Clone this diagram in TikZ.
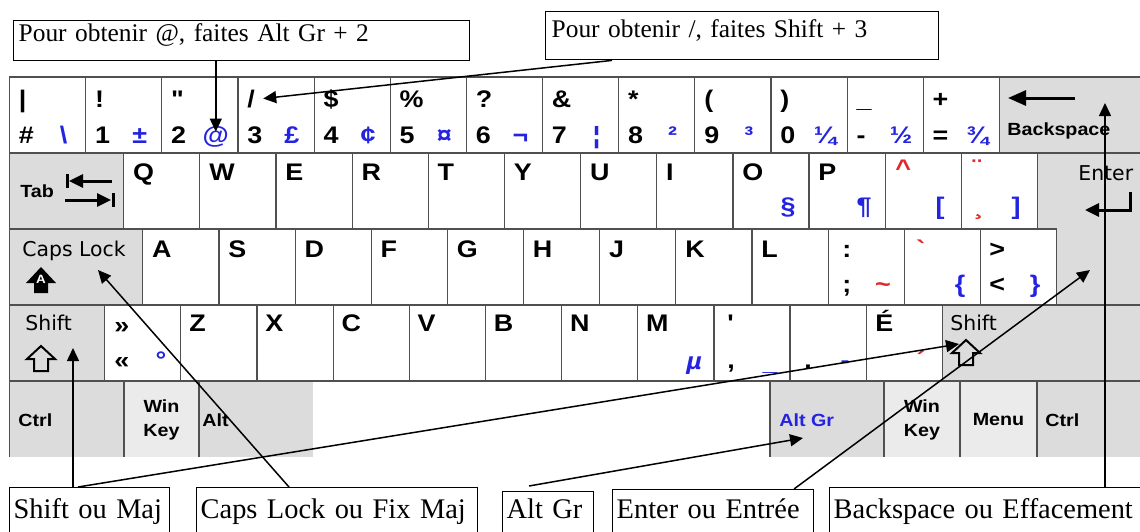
\documentclass[tikz,border=0pt]{standalone}
\usepackage{fontspec}
\setmainfont{Liberation Serif}
\newfontfamily\keyfont[FakeStretch=1.12,Ligatures=TeXOff]{Liberation Sans}
\newfontfamily\plainfont{DejaVu Sans}
\usetikzlibrary{arrows.meta,calc}

\definecolor{keyline}{HTML}{505050}
\definecolor{keygray}{HTML}{DCDCDC}
\definecolor{keylight}{HTML}{EBEBEB}
\definecolor{altblue}{HTML}{2424E0}
\definecolor{deadred}{HTML}{E02828}

\tikzset{
  keyface/.style={draw=keyline, line width=0.6pt, fill=white},
  modface/.style={keyface, fill=keygray},
  keychar/.style={inner sep=0pt, anchor=base west, font=\keyfont\bfseries\fontsize{12}{12}\selectfont},
  altchar/.style={keychar, anchor=base, text=altblue},
  deadchar/.style={keychar, text=deadred},
  modlabel/.style={inner sep=0pt, anchor=base west, font=\keyfont\bfseries\fontsize{8.8}{12}\selectfont},
  plainlabel/.style={inner sep=0pt, anchor=base west, font=\plainfont\fontsize{10.2}{12}\selectfont},
  note/.style={draw, line width=0.7pt, anchor=north west, inner xsep=2.5pt, inner ysep=0pt, align=left, font=\fontsize{12.7}{16}\selectfont},
  bignote/.style={note, inner xsep=2pt, font=\fontsize{14.2}{17}\selectfont, text height=15.5pt, text depth=12pt},
  arr/.style={-{Triangle[length=6.5pt,width=6pt]}, line width=0.75pt},
  icon/.style={line width=1.5pt, -{Triangle[length=7pt,width=6.5pt]}}
}

\begin{document}
\begin{tikzpicture}[x=0.5pt, y=-0.5pt]
\useasboundingbox (0,0) rectangle (1140,531);

% bottom row
\fill[keygray] (9.5,381) rectangle (124,457);
\fill[keylight] (124,381) rectangle (199,457);
\fill[keygray] (199,381) rectangle (313,457);
\fill[keygray] (770,381) rectangle (884,457);
\fill[keylight] (884,381) rectangle (1037,457);
\fill[keygray] (1037,381) rectangle (1142,457);
\foreach \xx in {9.5,124,199,770,884,960,1037}
  \draw[keyline, line width=0.6pt] (\xx,381) -- (\xx,457);

% row 1
\foreach \shft/\bas/\agr [count=\i from 0] in {{|}/{\#}/{\textbackslash}, {!}/1/{±}, {"}/2/{@}, {/}/3/{£}, {\$}/4/{¢}, {\%}/5/{¤}, {?}/6/{¬}, {\&}/7/{¦}, {*}/8/{²}, {(}/9/{³}, {)}/0/{¼}, {\_}/{-}/{½}, {+}/{=}/{¾}} {
  \draw[keyface] ({9.5+76.15*\i},77) rectangle +(76.15,76);
  \node[keychar] (n\i-up) at ({18.5+76.15*\i},107) {\shft};
  \node[keychar] (n\i-low) at ({18.5+76.15*\i},143) {\bas};
  \node[altchar] (n\i-alt) at ({63.5+76.15*\i},143) {\agr};
}
\draw[modface] (999.45,77) rectangle (1142,153);
\draw[modface] (1037.5,153) -- (1142,153) -- (1142,305) -- (1056.6,305) -- (1056.6,229) -- (1037.5,229) -- cycle;

% row 2
\draw[modface] (9.5,153) rectangle (123.7,229);
\foreach \j in {0,...,11}
  \draw[keyface] ({123.7+76.15*\j},153) rectangle +(76.15,76);
\foreach \ch [count=\j from 0] in {Q,W,E,R,T,Y,U,I,O,P}
  \node[keychar] (q\j) at ({132.7+76.15*\j},180) {\ch};
\node[altchar] (para) at (788,214) {§};
\node[altchar] (pilcrow) at (864,214) {¶};
\node[deadchar] (circ) at (895,176) {\textasciicircum};
\node[altchar] (lbrack) at (940,214) {[};
\node[deadchar] (trema) at (972,176) {¨};
\node[deadchar] (cedil) at (974,214) {¸};
\node[altchar] (rbrack) at (1016,214) {]};

% row 3
\draw[modface] (9.5,229) rectangle (142.8,305);
\foreach \j in {0,...,11}
  \draw[keyface] ({142.8+76.15*\j},229) rectangle +(76.15,76);
\foreach \ch [count=\j from 0] in {A,S,D,F,G,H,J,K,L}
  \node[keychar] (a\j) at ({151.8+76.15*\j},257) {\ch};
\node[keychar] (colon) at (842,257) {:};
\node[keychar] (semi) at (842,292) {;};
\node[deadchar, anchor=base] (tilde) at (883,292) {\textasciitilde};
\node[deadchar] (grave) at (916,257) {`};
\node[altchar] (lbrace) at (960,292) {\{};
\node[keychar] (gt) at (989,257) {>};
\node[keychar] (lt) at (989,292) {<};
\node[altchar] (rbrace) at (1035,292) {\}};

% row 4
\draw[modface] (9.5,305) rectangle (104.7,381);
\foreach \j in {0,...,10}
  \draw[keyface] ({104.7+76.15*\j},305) rectangle +(76.15,76);
\draw[modface] (942.35,305) rectangle (1142,381);
\node[keychar] (raquo) at (114,333) {»};
\node[keychar] (laquo) at (114,368) {«};
\node[altchar] (degree) at (161,368) {°};
\foreach \ch [count=\j from 1] in {Z,X,C,V,B,N,M}
  \node[keychar] (z\j) at ({112.7+76.15*\j},331) {\ch};
\node[altchar] (micro) at (694,369) {\itshape µ};
\node[keychar] (apos) at (727,331) {'};
\node[keychar] (comma) at (727,368) {,};
\node[altchar] (under) at (770,370) {\_};
\node[keychar] (dot) at (804,368) {.};
\node[altchar] (dash) at (845,368) {-};
\node[keychar] (eacute) at (875,331) {É};
\node[deadchar, anchor=base] (acute) at (921,368) {´};

% key names
\node[modlabel] (tabTxt) at (20,197) {Tab};
\node[modlabel] (bkspTxt) at (1007,135) {Backspace};
\node[plainlabel] (enterTxt) at (1078,180) {Enter};
\node[plainlabel] (capsTxt) at (22,256) {Caps Lock};
\node[plainlabel] (lshiftTxt) at (25,330) {Shift};
\node[plainlabel] (rshiftTxt) at (950,330) {Shift};
\node[modlabel, anchor=west] (lctrl) at (18,420) {Ctrl};
\node[modlabel, anchor=center, align=center] (lwin) at (161.5,420) {Win\\Key};
\node[modlabel, anchor=west] (alt) at (202,420) {Alt};
\node[modlabel, anchor=west, text=altblue] (altgr) at (779,420) {Alt Gr};
\node[modlabel, anchor=center, align=center] (rwin) at (922,420) {Win\\Key};
\node[modlabel, anchor=center] (menu) at (998.5,420) {Menu};
\node[modlabel, anchor=west] (rctrl) at (1045,420) {Ctrl};

% icons
\draw[icon] (112,181) -- (69,181);
\draw[line width=1.5pt] (67,174) -- (67,188);
\draw[icon] (65,200) -- (111,200);
\draw[line width=1.5pt] (113,193) -- (113,207);
\draw[icon, -{Triangle[length=9pt,width=7.5pt]}] (1075,98) -- (1008,98);
\draw[icon] (1130,192) -- (1130,210) -- (1085,210);
\fill (41,267) -- (56,283) -- (48,283) -- (48,293) -- (34,293) -- (34,283) -- (26,283) -- cycle;
\node[font=\keyfont\bfseries\fontsize{6}{6}\selectfont, text=white, inner sep=0pt] (capsA) at (41,279) {A};
\foreach \cx/\cy in {41/346, 966/340}
  \draw[line width=1pt] (\cx,\cy) -- ++(14,13) -- ++(-7,0) -- ++(0,12) -- ++(-14,0) -- ++(0,-12) -- ++(-7,0) -- cycle;

% notes
\node[note, text width=223pt, text height=10.5pt, text depth=9.5pt] (atBox) at (13,20) {Pour obtenir @, faites Alt Gr + 2};
\node[note, inner xsep=3pt, text width=190.5pt, text height=13pt, text depth=11pt] (slashBox) at (545,11) {Pour obtenir /, faites Shift + 3};
\node[bignote, text width=76pt] (shiftBox) at (9,487) {Shift ou Maj};
\node[bignote, text width=136.5pt] (capsBox) at (196,487) {Caps Lock ou Fix Maj};
\node[bignote, text width=41.5pt, text height=13.5pt] (altgrBox) at (502,491) {Alt Gr};
\node[bignote, text width=96.5pt, text height=14.5pt] (enterBox) at (612,489) {Enter ou Entrée};
\node[bignote, text width=161pt] (bkspBox) at (829,487) {Backspace ou Effacement};

\coordinate (lshiftTip) at (73,348);
\coordinate (rshiftTip) at (959,344);
\coordinate (capsTip) at (98,270);
\coordinate (altgrTip) at (803,438);
\coordinate (enterTip) at (1090,270);
\coordinate (bkspTip) at (1105,103);
\draw[arr] (atBox.south -| n2-alt) -- ([yshift=-3pt]n2-alt.north);
\draw[arr] ($(slashBox.south west)!0.17!(slashBox.south east)$) -- ([xshift=4pt]n3-up.east);
\draw[arr] (lshiftTip |- shiftBox.north) -- (lshiftTip);
\draw[arr] ($(shiftBox.north west)+(69,0)$) -- (rshiftTip);
\draw[arr] ($(capsBox.north west)+(93,0)$) -- (capsTip);
\draw[arr] ($(altgrBox.north west)+(27,-5)$) -- (altgrTip);
\draw[arr] ($(enterBox.north west)+(182,0)$) -- (enterTip);
\draw[arr] (bkspTip |- bkspBox.north) -- (bkspTip);
\end{tikzpicture}
\end{document}
